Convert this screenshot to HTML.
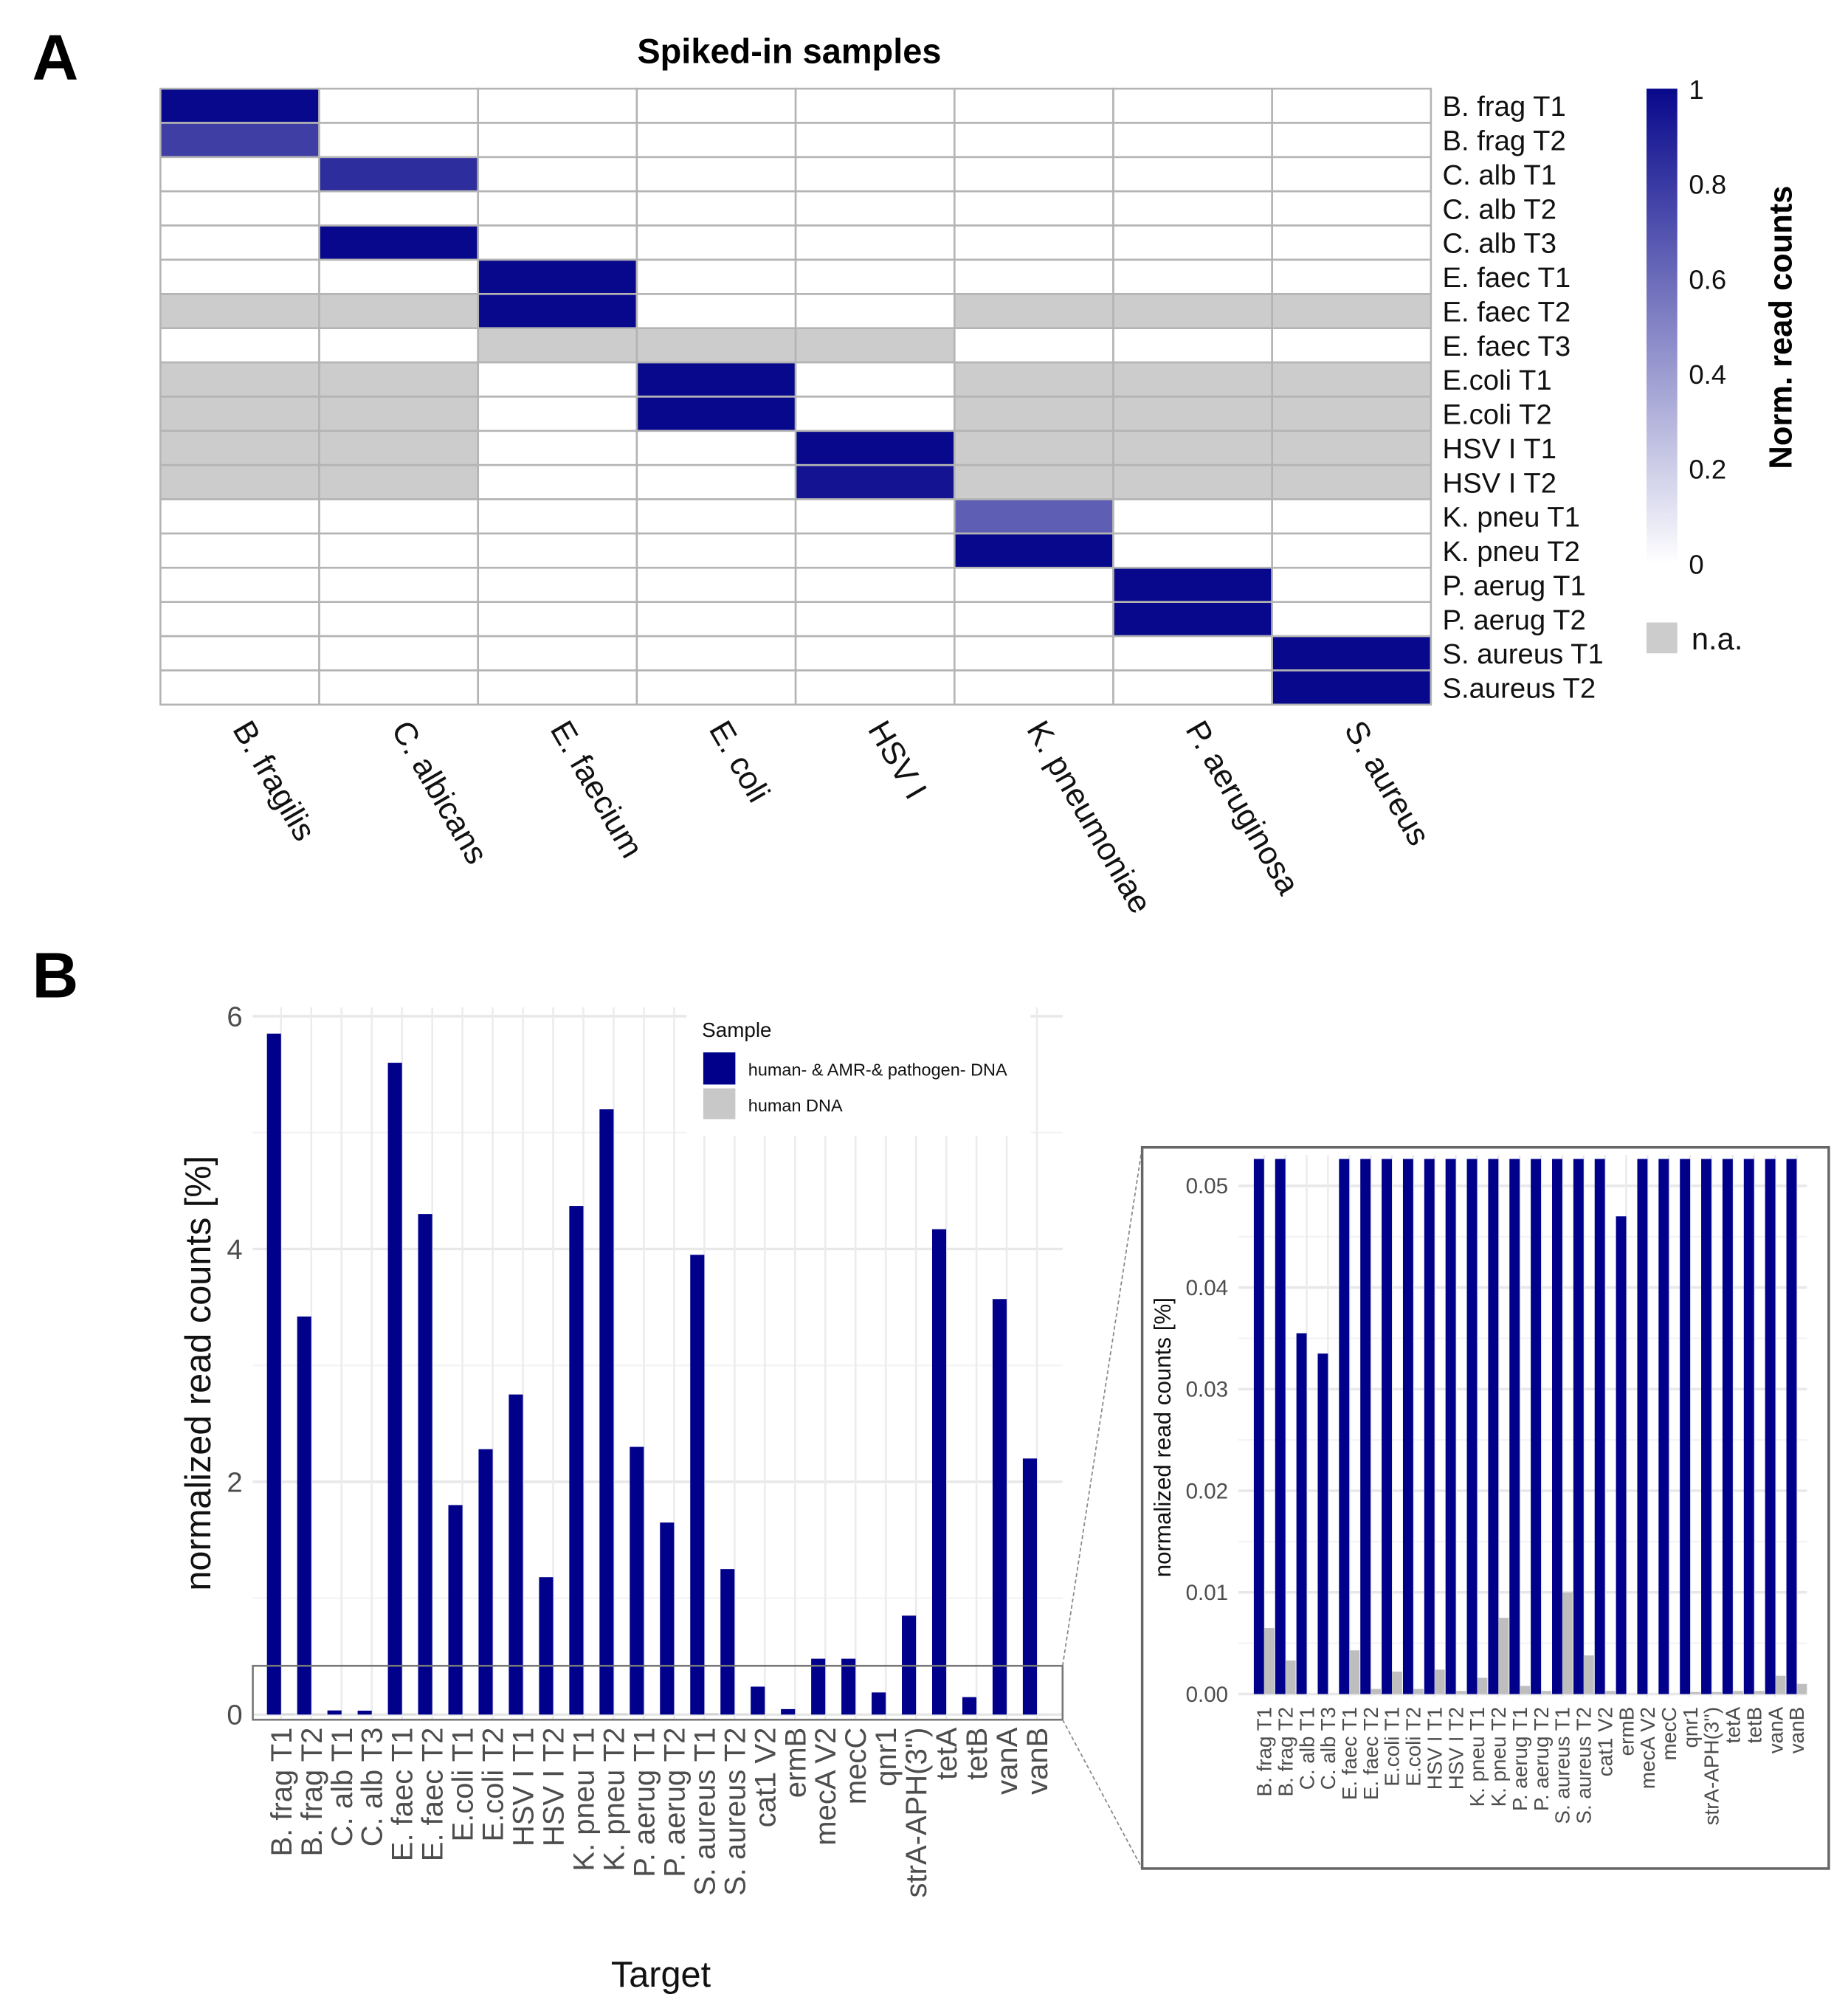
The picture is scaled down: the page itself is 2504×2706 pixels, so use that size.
<!DOCTYPE html>
<html><head><meta charset="utf-8"><style>
html,body{margin:0;padding:0;background:#fff}
svg{display:block;font-family:"Liberation Sans",Arial,sans-serif}
</style></head><body>
<svg id="fig" width="2504" height="2706" viewBox="0 0 1440 1556" xmlns="http://www.w3.org/2000/svg">
<text x="25" y="62" font-size="50" font-weight="bold">A</text>
<text x="615" y="49" font-size="27" font-weight="bold" text-anchor="middle">Spiked-in samples</text>
<g id="heat"></g>
<text x="25" y="777" font-size="50" font-weight="bold">B</text>
<g id="main"></g>
<g id="inset"></g>
</svg>
<script>
const NS="http://www.w3.org/2000/svg";
function mk(p,t,a,txt){const e=document.createElementNS(NS,t);for(const k in a)e.setAttribute(k,a[k]);if(txt!==undefined)e.textContent=txt;p.appendChild(e);return e;}

// ---------- Heatmap data ----------
const heatCols=["B. fragilis","C. albicans","E. faecium","E. coli","HSV I","K. pneumoniae","P. aeruginosa","S. aureus"];
const heatRows=["B. frag T1","B. frag T2","C. alb T1","C. alb T2","C. alb T3","E. faec T1","E. faec T2","E. faec T3","E.coli T1","E.coli T2","HSV I T1","HSV I T2","K. pneu T1","K. pneu T2","P. aerug T1","P. aerug T2","S. aureus T1","S.aureus T2"];
const N=null;
const heatVals=[
[1,0,0,0,0,0,0,0],
[0.78,0,0,0,0,0,0,0],
[0,0.85,0,0,0,0,0,0],
[0,0,0,0,0,0,0,0],
[0,1,0,0,0,0,0,0],
[0,0,1,0,0,0,0,0],
[N,N,1,0,0,N,N,N],
[0,0,N,N,N,0,0,0],
[N,N,0,1,0,N,N,N],
[N,N,0,1,0,N,N,N],
[N,N,0,0,1,N,N,N],
[N,N,0,0,0.95,N,N,N],
[0,0,0,0,0,0.65,0,0],
[0,0,0,0,0,1,0,0],
[0,0,0,0,0,0,1,0],
[0,0,0,0,0,0,1,0],
[0,0,0,0,0,0,0,1],
[0,0,0,0,0,0,0,1]];
const cbTicks=[0,0.2,0.4,0.6,0.8,1];

function heatColor(v){const r=Math.round(255-247*v),b=Math.round(255-115*v);return `rgb(${r},${r},${b})`;}
(function(){
const g=document.getElementById('heat');
const x0=125,x1=1115,y0=69,y1=549;
const cw=(x1-x0)/heatCols.length,rh=(y1-y0)/heatRows.length;
heatRows.forEach((rn,i)=>{heatCols.forEach((cn,j)=>{
 const v=heatVals[i][j];
 const r=mk(g,'rect',{x:x0+j*cw,y:y0+i*rh,width:cw,height:rh,fill:v===null?'#cccccc':heatColor(v),stroke:'#b4b4b4','stroke-width':1.5});
 
 
});
 const t=mk(g,'text',{x:x1+9,y:y0+(i+0.5)*rh+8,'font-size':22,fill:'#111'},rn);
 
 
});
heatCols.forEach((cn,j)=>{
 const cx=x0+(j+0.45)*cw;
 const t=mk(g,'text',{x:0,y:0,'font-size':25,fill:'#111',transform:`translate(${cx},568) rotate(60)`},cn);
 
 
});
// colorbar
const cy0=69,cy1=439;
const defs=mk(g,'defs',{});
const lg=mk(defs,'linearGradient',{id:'cb',x1:0,y1:1,x2:0,y2:0});
for(let k=0;k<=10;k++)mk(lg,'stop',{offset:k/10,'stop-color':heatColor(k/10)});
const cb=mk(g,'rect',{x:1283,y:cy0,width:24,height:cy1-cy0,fill:'url(#cb)'});


cbTicks.forEach(v=>{const y=cy1-(cy1-cy0)*v;
 const t=mk(g,'text',{x:1316,y:y+8,'font-size':21,fill:'#111'},String(v));
 
 
});
const ct=mk(g,'text',{x:0,y:0,'font-size':25,'font-weight':'bold','text-anchor':'middle',transform:'translate(1396,255) rotate(-90)'},'Norm. read counts');


const na=mk(g,'rect',{x:1283,y:485,width:24,height:24,fill:'#cccccc'});


const nt=mk(g,'text',{x:1318,y:506,'font-size':24,fill:'#111'},'n.a.');


})();

// ---------- Bar chart data ----------
const targets=["B. frag T1","B. frag T2","C. alb T1","C. alb T3","E. faec T1","E. faec T2","E.coli T1","E.coli T2","HSV I T1","HSV I T2","K. pneu T1","K. pneu T2","P. aerug T1","P. aerug T2","S. aureus T1","S. aureus T2","cat1 V2","ermB","mecA V2","mecC","qnr1","strA-APH(3'')","tetA","tetB","vanA","vanB"];
const spikedVals=[5.85,3.42,0.0355,0.0335,5.6,4.3,1.8,2.28,2.75,1.18,4.37,5.2,2.3,1.65,3.95,1.25,0.24,0.047,0.48,0.48,0.19,0.85,4.17,0.15,3.57,2.2];
const humanVals=[0.0065,0.0033,0,0,0.0043,0.0005,0.0022,0.0005,0.0024,0.0003,0.0016,0.0075,0.0008,0.0003,0.010,0.0038,0.0003,0,0,0,0.0002,0.0002,0.0003,0.0003,0.0018,0.001];
const mainTicks=[0,2,4,6];
const insetTicks=[0,0.01,0.02,0.03,0.04,0.05];
const insetTickLabels=["0.00","0.01","0.02","0.03","0.04","0.05"];

function barChart(g,o){
 const n=targets.length;
 const xs=i=>o.c0+(o.c1-o.c0)*i/(n-1);
 const ys=v=>o.yz-(v-0)*o.ppu;
 // minor gridlines
 for(let k=0;k<o.ticks.length;k++){
  const v=o.ticks[k];
  mk(g,'line',{x1:o.px0,x2:o.px1,y1:ys(v),y2:ys(v),stroke:'#e8e8e8','stroke-width':2});
  if(k<o.ticks.length-1){const m=(o.ticks[k]+o.ticks[k+1])/2;mk(g,'line',{x1:o.px0,x2:o.px1,y1:ys(m),y2:ys(m),stroke:'#f3f3f3','stroke-width':1.2});}
  const t=mk(g,'text',{x:o.px0-8,y:ys(v)+o.tf*0.35,'font-size':o.tf,'text-anchor':'end',fill:'#4d4d4d'},o.tickLabels[k]);
  
  
 }
 for(let i=0;i<n;i++) mk(g,'line',{x1:xs(i),x2:xs(i),y1:o.py0,y2:o.py1,stroke:'#ececec','stroke-width':1.5});
 for(let i=0;i<n;i++){
  const cx=xs(i);
  const top=Math.max(ys(spikedVals[i]),o.clip);
  const b=mk(g,'rect',{x:cx-o.bw,y:top,width:o.bw,height:o.yz-top,fill:'#00008b'});
  
  
  const gt=Math.max(ys(humanVals[i]),o.clip);
  const h=mk(g,'rect',{x:cx,y:gt,width:o.bw,height:o.yz-gt,fill:'#bebebe'});
  
  
  const t=mk(g,'text',{x:0,y:0,'font-size':o.xf,'text-anchor':'end',fill:'#4d4d4d',transform:`translate(${cx+o.xf*0.35},${o.xly}) rotate(-90)`},targets[i]);
  
  
 }
 return {xs,ys};
}

(function(){
const g=document.getElementById('main');
barChart(g,{c0:219,c1:808,yz:1336,ppu:90.7,px0:197,px1:828,py0:785,py1:1340,ticks:mainTicks,tickLabels:mainTicks.map(String),tf:22,bw:11,xf:23,xly:1346,clip:0});
const yt=mk(g,'text',{x:0,y:0,'font-size':28,'text-anchor':'middle',fill:'#111',transform:'translate(164,1070) rotate(-90)'},'normalized read counts [%]');


const xt=mk(g,'text',{x:515,y:1548,'font-size':28,'text-anchor':'middle',fill:'#111'},'Target');


// legend
const lg=mk(g,'g',{});


mk(lg,'rect',{x:535,y:785,width:268,height:100,fill:'#fff'});
mk(lg,'text',{x:547,y:808,'font-size':16,fill:'#111'},'Sample');
const k1=mk(lg,'rect',{x:548,y:820,width:25,height:25,fill:'#00008b'});


const k2=mk(lg,'rect',{x:548,y:848,width:25,height:24,fill:'#c8c8c8'});


mk(lg,'text',{x:583,y:838,'font-size':13.5,fill:'#111'},'human- & AMR-& pathogen- DNA');
mk(lg,'text',{x:583,y:866,'font-size':13.5,fill:'#111'},'human DNA');
// zoom box + connectors
const zb=mk(g,'rect',{x:197,y:1298,width:631,height:42,fill:'none',stroke:'#777','stroke-width':1.5});


mk(g,'line',{x1:828,y1:1298,x2:890,y2:894,stroke:'#888','stroke-width':1,'stroke-dasharray':'3,2'});
mk(g,'line',{x1:828,y1:1340,x2:890,y2:1456,stroke:'#888','stroke-width':1,'stroke-dasharray':'3,2'});
})();

(function(){
const g=document.getElementById('inset');
mk(g,'rect',{x:890,y:894,width:535,height:562,fill:'#fff',stroke:'#666','stroke-width':2});
barChart(g,{c0:985,c1:1400,yz:1320,ppu:7920,px0:965,px1:1408,py0:900,py1:1322,ticks:insetTicks,tickLabels:insetTickLabels,tf:17,bw:8,xf:16,xly:1330,clip:903});
const yt=mk(g,'text',{x:0,y:0,'font-size':18,'text-anchor':'middle',fill:'#111',transform:'translate(912,1120) rotate(-90)'},'normalized read counts [%]');


})();
</script>
</body></html>
